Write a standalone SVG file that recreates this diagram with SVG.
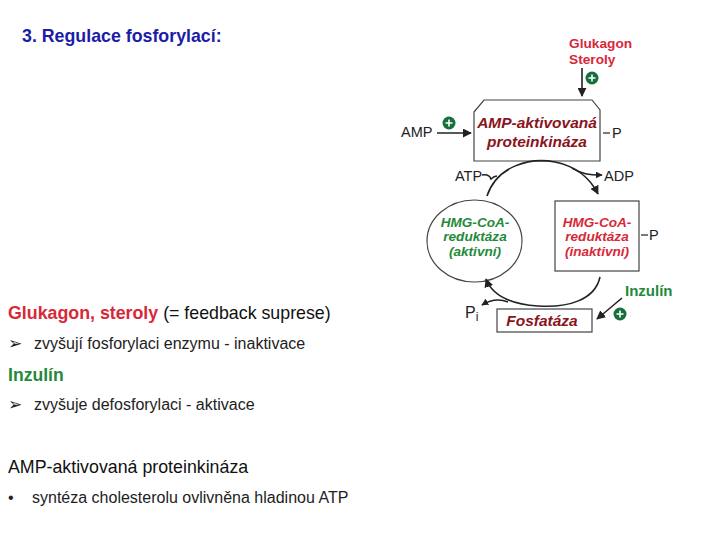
<svg xmlns="http://www.w3.org/2000/svg" width="720" height="540" viewBox="0 0 720 540">
<style>
text{font-family:"Liberation Sans",Arial,sans-serif}
.lbl{font-size:14.5px;fill:#222}
.enz{font-size:15.5px;font-weight:bold;font-style:italic}
.hmg{font-size:13.6px}
.red{fill:#d7283a}
.dred{fill:#8a1420}
.grn{fill:#1f8a3a}
.box{fill:#fff;stroke:#444;stroke-width:1.2}
.ln{fill:none;stroke:#222;stroke-width:1.6}
.plus circle{fill:#17703a}
.plus path{stroke:#fff;stroke-width:1.6}
.body{font-size:16px;fill:#222}
.blt{font-family:"DejaVu Sans",sans-serif;font-size:17px}
</style>
<defs>
<marker id="ah" viewBox="0 0 10 10" refX="9" refY="5" markerWidth="7" markerHeight="7" markerUnits="userSpaceOnUse" orient="auto">
<path d="M0,0 L10,5 L0,10 z" fill="#222"/>
</marker>
<marker id="ah2" viewBox="0 0 10 10" refX="9" refY="5" markerWidth="9" markerHeight="9" markerUnits="userSpaceOnUse" orient="auto">
<path d="M0,0 L10,5 L0,10 z" fill="#222"/>
</marker>
</defs>

<text x="22" y="42" style="font-size:17.8px;font-weight:bold;fill:#1c1ca8">3. Regulace fosforylací:</text>

<g id="left-text">
<text x="8" y="319" style="font-size:17.8px"><tspan class="red" font-weight="bold">Glukagon, steroly</tspan><tspan fill="#111"> (= feedback suprese)</tspan></text>
<text x="8" y="349" class="body"><tspan class="blt">➢</tspan><tspan x="34">zvyšují fosforylaci enzymu - inaktivace</tspan></text>
<text x="8" y="381" class="grn" style="font-size:17.6px;font-weight:bold">Inzulín</text>
<text x="8" y="410" class="body"><tspan class="blt">➢</tspan><tspan x="34">zvyšuje defosforylaci - aktivace</tspan></text>
<text x="8" y="473" style="font-size:17.8px;fill:#111">AMP-aktivovaná proteinkináza</text>
<text x="8" y="503" class="body">•<tspan x="32">syntéza cholesterolu ovlivněna hladinou ATP</tspan></text>
</g>

<g id="glukagon">
<text x="569" y="48" class="red" style="font-size:13.7px;font-weight:bold">Glukagon</text>
<text x="569" y="64" class="red" style="font-size:13.7px;font-weight:bold">Steroly</text>
<g class="plus"><circle cx="592" cy="78" r="6.5"/><path d="M588.5,78h7M592,74.5v7"/></g>
</g>

<g id="ampk">
<path class="box" d="M474,112 L484,100 L592,100 L600,110 L600,161 L474,161 Z"/>
<text x="537" y="128" text-anchor="middle" class="enz dred">AMP-aktivovaná</text>
<text x="537" y="147" text-anchor="middle" class="enz dred">proteinkináza</text>
<path d="M603,133 H610" stroke="#222" stroke-width="1.2"/>
<text x="612" y="138" class="lbl">P</text>
</g>

<g id="amp">
<text x="401" y="137" class="lbl">AMP</text>
<g class="plus"><circle cx="449" cy="123" r="6.5"/><path d="M445.5,123h7M449,119.5v7"/></g>
</g>

<g id="hmg-active">
<ellipse class="box" cx="474.5" cy="241" rx="47.5" ry="41"/>
<text x="475" y="227" text-anchor="middle" class="enz hmg grn">HMG-CoA-</text>
<text x="475" y="241" text-anchor="middle" class="enz hmg grn">reduktáza</text>
<text x="475" y="256" text-anchor="middle" class="enz hmg grn">(aktivní)</text>
</g>

<g id="hmg-inactive">
<rect class="box" x="555" y="201" width="84" height="70"/>
<text x="597" y="227" text-anchor="middle" class="enz hmg red">HMG-CoA-</text>
<text x="597" y="241" text-anchor="middle" class="enz hmg red">reduktáza</text>
<text x="597" y="256" text-anchor="middle" class="enz hmg red">(inaktivní)</text>
<path d="M641,235 H648" stroke="#222" stroke-width="1.2"/>
<text x="649" y="240" class="lbl">P</text>
</g>

<g id="fosfataza">
<rect class="box" x="497" y="309" width="95" height="23"/>
<text x="542" y="326" text-anchor="middle" class="enz dred">Fosfatáza</text>
</g>

<g id="inzulin">
<text x="625" y="296" class="grn" style="font-size:15px;font-weight:bold">Inzulín</text>
<g class="plus"><circle cx="620" cy="314" r="6.5"/><path d="M616.5,314h7M620,310.5v7"/></g>
</g>

<g id="small-labels">
<text x="455" y="181" class="lbl">ATP</text>
<text x="604" y="181" class="lbl">ADP</text>
<text x="465" y="318" style="font-size:16px;fill:#222">P<tspan font-size="12" dy="3" fill="#222">i</tspan></text>
</g>

<g id="connectors">
<path class="ln" d="M582,68 V96" marker-end="url(#ah2)"/>
<path class="ln" d="M437,133 H471" marker-end="url(#ah2)"/>
<path class="ln" d="M487,196 C497,166 530,157 555,162 C575,166 590,178 598,194" marker-end="url(#ah2)"/>
<path class="ln" d="M482,175 C488,174 490,176 491,179 C493,177 495,176 497,176" stroke-width="1.2"/>
<path class="ln" d="M572,168 C582,174 588,175 602,175" marker-end="url(#ah)"/>
<path class="ln" d="M600,277 C595,300 568,308 538,306 C510,304 492,295 486,279" marker-end="url(#ah2)"/>
<path class="ln" d="M508,302 C498,298 490,300 482,305" marker-end="url(#ah)"/>
<path class="ln" d="M622,298 L597,319" marker-end="url(#ah2)"/>
</g>
</svg>
